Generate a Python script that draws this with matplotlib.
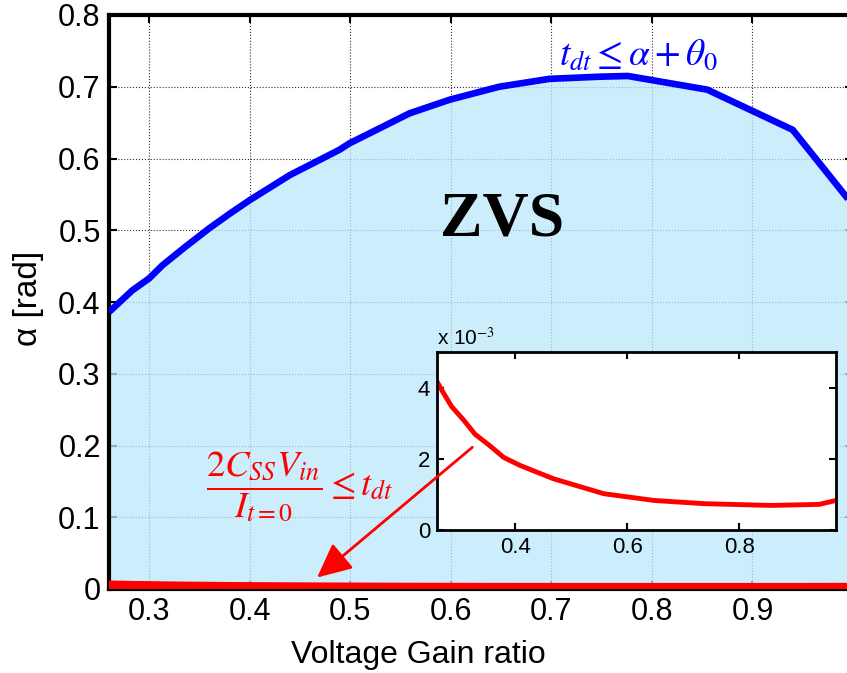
import matplotlib
matplotlib.use("Agg")
import matplotlib.pyplot as plt
from matplotlib.patches import FancyArrowPatch

plt.rcParams['mathtext.fontset'] = 'stix'

# Upper boundary of the ZVS region: alpha vs voltage gain
gain_upper = [0.26, 0.283, 0.30, 0.313, 0.336, 0.36, 0.38, 0.40, 0.44, 0.489,
              0.499, 0.559, 0.599, 0.648, 0.698, 0.748, 0.776, 0.855, 0.94, 1.0]
alpha_upper = [0.386, 0.416, 0.433, 0.451, 0.477, 0.503, 0.523, 0.542, 0.577, 0.612,
               0.621, 0.663, 0.682, 0.700, 0.711, 0.714, 0.715, 0.696, 0.640, 0.535]

# Lower boundary (charge condition), in rad
gain_lower = [0.26, 0.27, 0.286, 0.307, 0.328, 0.355, 0.379, 0.409, 0.468, 0.558,
              0.648, 0.737, 0.857, 0.943, 0.973, 1.0]
alpha_lower = [4.17e-3, 3.89e-3, 3.47e-3, 3.10e-3, 2.69e-3, 2.36e-3, 2.04e-3, 1.81e-3,
               1.44e-3, 1.02e-3, 0.83e-3, 0.74e-3, 0.69e-3, 0.72e-3, 0.83e-3, 0.95e-3]

x_ticks = [0.3, 0.4, 0.5, 0.6, 0.7, 0.8, 0.9]
y_ticks = [0, 0.1, 0.2, 0.3, 0.4, 0.5, 0.6, 0.7, 0.8]
inset_x_ticks = [0.4, 0.6, 0.8]
inset_y_ticks = [0, 2e-3, 4e-3]

W, H = 847, 673
fig = plt.figure(figsize=(W / 100, H / 100), dpi=100)

# main axes (right edge runs slightly past the canvas)
L, R, T, B = 109, 853, 15, 589
ax = fig.add_axes([L / W, 1 - B / H, (R - L) / W, (B - T) / H])
ax.set_xlim(0.26, 1.0)
ax.set_ylim(0, 0.8)
ax.tick_params(direction='in', top=True, right=True, length=6, width=1.5, pad=6)
ax.set_xticks(x_ticks)
ax.set_xticklabels([f"{v:g}" for v in x_ticks], fontsize=22,
                   fontfamily='Liberation Sans')
ax.set_yticks(y_ticks)
ax.set_yticklabels([f"{v:g}" for v in y_ticks], fontsize=22,
                   fontfamily='Liberation Sans')
for s in ax.spines.values():
    s.set_linewidth(3)
ax.grid(True, color='#333333', linestyle=':', linewidth=0.8)
ax.set_axisbelow(True)

ax.fill_between(gain_upper, 0, alpha_upper, color='#bce8fb', alpha=0.75,
                linewidth=0, zorder=2)
ax.plot(gain_upper, alpha_upper, color='#0000ff', linewidth=4.8, zorder=4,
        solid_capstyle='butt')
ax.plot(gain_lower, alpha_lower, color='#ff0000', linewidth=8, zorder=4)

ax.text(0.651, 0.514, 'ZVS', fontsize=46, fontweight='bold',
        family='Liberation Serif', ha='center', va='center', zorder=5)
ax.text(0.708, 0.745, r'$t_{dt}\leq\alpha+\theta_0$', color='#0000ff',
        fontsize=27, ha='left', va='center', zorder=5)
ax.text(0.356, 0.142, r'$\dfrac{2C_{SS}V_{in}}{I_{t=0}}\leq t_{dt}$',
        color='#ff0000', fontsize=26.5, ha='left', va='center', zorder=5)

fig.text(418 / W, 1 - 655 / H, 'Voltage Gain ratio', fontsize=23,
         family='Liberation Sans', ha='center', va='center')
fig.text(28 / W, 1 - 298 / H, 'α [rad]', fontsize=24, rotation=90,
         family='Liberation Sans', ha='center', va='center')

# inset zoom on the lower boundary
iL, iR, iT, iB = 437, 836, 352, 530
axi = fig.add_axes([iL / W, 1 - iB / H, (iR - iL) / W, (iB - iT) / H])
axi.set_facecolor('white')
axi.set_xlim(0.26, 0.973)
axi.set_ylim(0, 5e-3)
axi.tick_params(direction='in', top=True, right=True, length=5, width=1.5, pad=5)
axi.set_xticks(inset_x_ticks)
axi.set_xticklabels([f"{v:g}" for v in inset_x_ticks], fontsize=16,
                    fontfamily='Liberation Sans')
axi.set_yticks(inset_y_ticks)
axi.set_yticklabels([f"{v * 1e3:g}" for v in inset_y_ticks], fontsize=16,
                    fontfamily='Liberation Sans')
for s in axi.spines.values():
    s.set_linewidth(2)
axi.plot(gain_lower, alpha_lower, color='#ff0000', linewidth=3.5)
axi.text(0.0, 1.02, r'x 10$^{-3}$', transform=axi.transAxes, fontsize=15,
         family='Liberation Sans', ha='left', va='bottom')

# arrow from the label down to the lower boundary, drawn over the inset
arrow = FancyArrowPatch((0.6214, 0.1975), (0.467, 0.016), transform=ax.transData,
                        arrowstyle='-|>,head_length=1.05,head_width=0.5',
                        mutation_scale=20, color='#ff0000', linewidth=2,
                        shrinkA=0, shrinkB=0, zorder=10)
fig.add_artist(arrow)

fig.savefig('out.png', dpi=100)
